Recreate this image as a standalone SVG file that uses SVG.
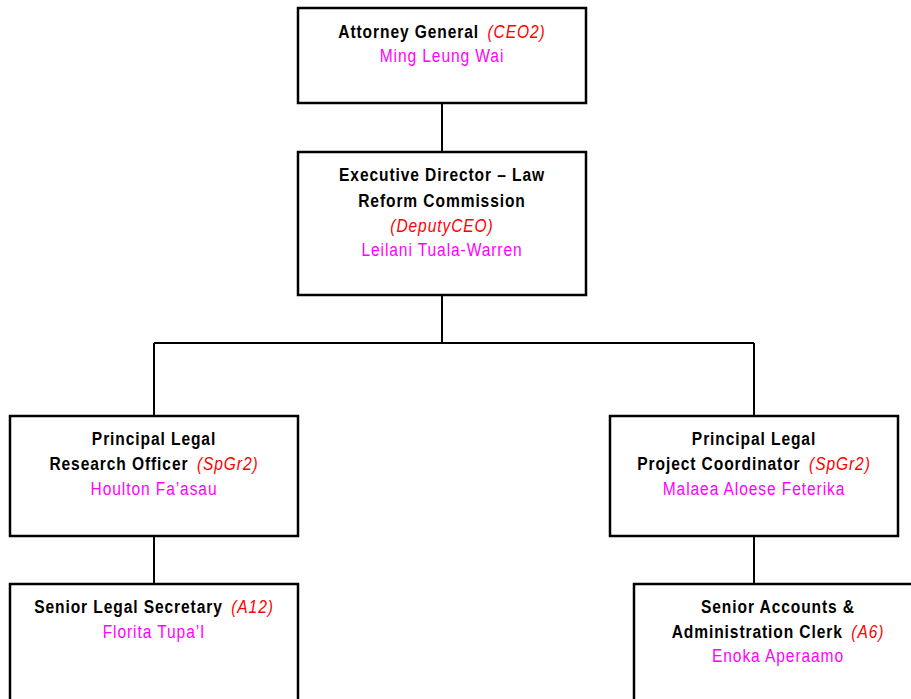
<svg xmlns="http://www.w3.org/2000/svg" width="911" height="699" viewBox="0 0 911 699" xml:space="preserve">
<style>
.box{fill:#fff;stroke:#000;stroke-width:2.5}
.ln{stroke:#000;stroke-width:2;fill:none}
text{font-family:"Liberation Sans",Arial,sans-serif;font-size:19px;letter-spacing:1.1px;text-anchor:middle}
.b{font-weight:bold;fill:#000}
.r{fill:#ff0000;font-style:italic;font-weight:normal}
.m{fill:#ff00ff;font-weight:normal}
</style>
<rect width="911" height="699" fill="#fff"/>
<g id="connectors">
<path class="ln" d="M442 103V152M442 295V343M154 343H754M154 343V416M754 343V416M154 536V584M754 536V584"/>
</g>
<g id="n1">
<rect class="box" x="298" y="8" width="288" height="95"/>
<text transform="translate(442,38) scale(0.82,1)"><tspan class="b">Attorney General </tspan><tspan class="r" dx="4">(CEO2)</tspan></text>
<text transform="translate(442,62) scale(0.82,1)" class="m">Ming Leung Wai</text>
</g>
<g id="n2">
<rect class="box" x="298" y="152" width="288" height="143"/>
<text transform="translate(442,181) scale(0.82,1)" class="b">Executive Director – Law</text>
<text transform="translate(442,207) scale(0.82,1)" class="b">Reform Commission</text>
<text transform="translate(442,232) scale(0.82,1)" class="r">(DeputyCEO)</text>
<text transform="translate(442,256) scale(0.82,1)" class="m">Leilani Tuala-Warren</text>
</g>
<g id="n3">
<rect class="box" x="10" y="416" width="288" height="120"/>
<text transform="translate(154,445) scale(0.82,1)" class="b">Principal Legal</text>
<text transform="translate(154,470) scale(0.82,1)"><tspan class="b">Research Officer </tspan><tspan class="r" dx="4">(SpGr2)</tspan></text>
<text transform="translate(154,495) scale(0.82,1)" class="m">Houlton Fa’asau</text>
</g>
<g id="n4">
<rect class="box" x="610" y="416" width="288" height="120"/>
<text transform="translate(754,445) scale(0.82,1)" class="b">Principal Legal</text>
<text transform="translate(754,470) scale(0.82,1)"><tspan class="b">Project  Coordinator </tspan><tspan class="r" dx="4">(SpGr2)</tspan></text>
<text transform="translate(754,495) scale(0.82,1)" class="m">Malaea Aloese Feterika</text>
</g>
<g id="n5">
<rect class="box" x="10" y="584" width="288" height="130"/>
<text transform="translate(154,613) scale(0.82,1)"><tspan class="b">Senior Legal Secretary </tspan><tspan class="r" dx="4">(A12)</tspan></text>
<text transform="translate(154,638) scale(0.82,1)" class="m">Florita Tupa’I</text>
</g>
<g id="n6">
<rect class="box" x="634" y="584" width="288" height="130"/>
<text transform="translate(778,613) scale(0.82,1)" class="b">Senior Accounts &amp;</text>
<text transform="translate(778,638) scale(0.82,1)"><tspan class="b">Administration Clerk </tspan><tspan class="r" dx="4">(A6)</tspan></text>
<text transform="translate(778,662) scale(0.82,1)" class="m">Enoka Aperaamo</text>
</g>
</svg>
